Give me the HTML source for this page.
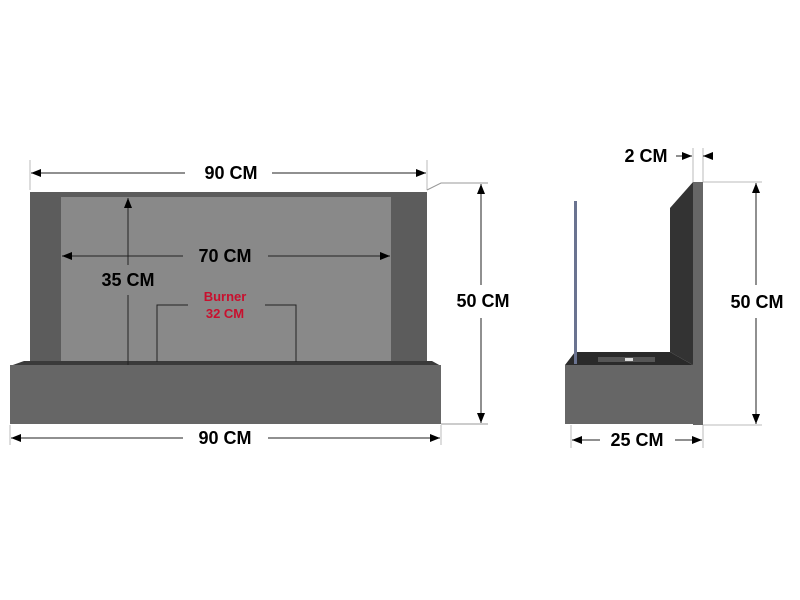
<!DOCTYPE html>
<html><head><style>body{margin:0;background:#fff}svg{display:block}text{font-family:"Liberation Sans",sans-serif;font-weight:bold}</style></head><body>
<svg width="800" height="600" viewBox="0 0 800 600">
<defs><marker id="a" viewBox="0 0 10 10" refX="10" refY="5" markerWidth="10" markerHeight="10" markerUnits="userSpaceOnUse" orient="auto-start-reverse"><path d="M0,1 L10,5 L0,9z" fill="#000"/></marker></defs>
<rect width="800" height="600" fill="#fff"/>
<rect x="30" y="192" width="397" height="173" fill="#5c5c5c"/>
<rect x="61" y="197" width="330" height="168" fill="#898989"/>
<polygon points="10,366 24,361 432,361 441,366" fill="#3a3a3a"/>
<rect x="10" y="365" width="431" height="59" fill="#666"/>
<g stroke="#222" stroke-width="1" fill="none">
<line x1="30" y1="160" x2="30" y2="190" stroke="#bbb"/><line x1="427" y1="160" x2="427" y2="190" stroke="#bbb"/>
<line x1="31" y1="173" x2="185" y2="173" marker-start="url(#a)"/><line x1="272" y1="173" x2="426" y2="173" marker-end="url(#a)"/>
<line x1="62" y1="256" x2="183" y2="256" marker-start="url(#a)"/><line x1="268" y1="256" x2="390" y2="256" marker-end="url(#a)"/>
<line x1="128" y1="198" x2="128" y2="265" marker-start="url(#a)"/><line x1="128" y1="295" x2="128" y2="365"/>
<polyline points="157,362 157,305 188,305"/><polyline points="265,305 296,305 296,362"/>
<line x1="11" y1="438" x2="183" y2="438" marker-start="url(#a)"/><line x1="268" y1="438" x2="440" y2="438" marker-end="url(#a)"/>
<line x1="10" y1="425" x2="10" y2="445" stroke="#bbb"/><line x1="441" y1="425" x2="441" y2="445" stroke="#bbb"/>
<polyline points="427,190 441,183 488,183" stroke="#999"/><line x1="441" y1="424" x2="488" y2="424" stroke="#999"/>
<line x1="481" y1="184" x2="481" y2="285" marker-start="url(#a)"/><line x1="481" y1="318" x2="481" y2="423" marker-end="url(#a)"/>
</g>
<text x="231" y="179" font-size="18" text-anchor="middle">90 CM</text>
<text x="225" y="262" font-size="18" text-anchor="middle">70 CM</text>
<text x="128" y="286" font-size="18" text-anchor="middle">35 CM</text>
<text x="225" y="301" font-size="13" fill="#c8102e" text-anchor="middle">Burner</text>
<text x="225" y="318" font-size="13" fill="#c8102e" text-anchor="middle">32 CM</text>
<text x="225" y="444" font-size="18" text-anchor="middle">90 CM</text>
<text x="483" y="307" font-size="18" text-anchor="middle">50 CM</text>
<polygon points="670,208 693,182 693,365 670,352" fill="#333"/>
<rect x="693" y="182" width="10" height="243" fill="#666"/>
<polygon points="565,365 575,352 670,352 693,365" fill="#2a2a2a"/>
<rect x="565" y="365" width="128" height="59" fill="#666"/>
<rect x="598" y="357" width="57" height="5" fill="#555"/><rect x="625" y="358" width="8" height="3" fill="#ddd"/>
<rect x="574" y="201" width="3" height="163" fill="#6a7390"/>
<g stroke="#222" stroke-width="1" fill="none">
<line x1="693" y1="148" x2="693" y2="182" stroke="#bbb"/><line x1="703" y1="148" x2="703" y2="182" stroke="#bbb"/>
<line x1="676" y1="156" x2="692" y2="156" marker-end="url(#a)"/><line x1="712" y1="156" x2="703" y2="156" marker-end="url(#a)"/>
<line x1="703" y1="182" x2="762" y2="182" stroke="#bbb"/><line x1="703" y1="425" x2="762" y2="425" stroke="#bbb"/>
<line x1="756" y1="183" x2="756" y2="285" marker-start="url(#a)"/><line x1="756" y1="318" x2="756" y2="424" marker-end="url(#a)"/>
<line x1="571" y1="425" x2="571" y2="448" stroke="#bbb"/><line x1="703" y1="425" x2="703" y2="448" stroke="#bbb"/>
<line x1="572" y1="440" x2="600" y2="440" marker-start="url(#a)"/><line x1="675" y1="440" x2="702" y2="440" marker-end="url(#a)"/>
</g>
<text x="646" y="162" font-size="18" text-anchor="middle">2 CM</text>
<text x="757" y="308" font-size="18" text-anchor="middle">50 CM</text>
<text x="637" y="446" font-size="18" text-anchor="middle">25 CM</text>
</svg>
</body></html>
